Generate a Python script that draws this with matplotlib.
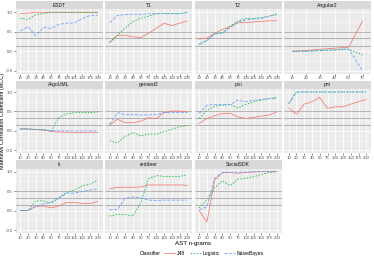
import matplotlib
matplotlib.use("Agg")
import matplotlib.pyplot as plt
from matplotlib.lines import Line2D

plt.rcParams['font.family'] = ['Liberation Sans', 'DejaVu Sans']

ngrams = ["10", "20", "30", "40", "50", "75", "100", "125", "150", "175", "200"]
ngrams_angular2 = ["10", "20", "30", "40", "50", "75"]

classifiers = ["J48", "Logistic", "NaiveBayes"]
colors = {"J48": "#F8766D", "Logistic": "#00BA38", "NaiveBayes": "#619CFF"}
dashes = {"J48": None, "Logistic": (2, 2), "NaiveBayes": (4, 2)}

projects = ["ESDT", "T1", "T2", "Angular2", "ArgoUML", "gensed2", "pixi", "pm",
            "k", "reddeer", "SocialSDK"]

esdt_j48 = [0.97, 0.98, 1.0, 1.0, 1.0, 1.0, 1.0, 1.0, 1.0, 1.0, 1.0]
esdt_log = [0.84, 0.82, 0.93, 0.97, 1.0, 1.0, 1.0, 1.0, 1.0, 1.0, 1.0]
esdt_nb = [0.52, 0.63, 0.40, 0.61, 0.59, 0.69, 0.72, 0.73, 0.84, 0.92, 0.93]

t1_j48 = [0.22, 0.41, 0.41, 0.37, 0.35, 0.46, 0.59, 0.72, 0.66, 0.72, 0.78]
t1_log = [0.24, 0.41, 0.60, 0.76, 0.85, 0.90, 0.96, 0.97, 0.97, 0.97, 0.99]
t1_nb = [0.73, 0.92, 0.94, 0.95, 0.95, 0.96, 0.97, 0.97, 0.96, 0.96, 1.0]

t2_j48 = [0.31, 0.34, 0.46, 0.56, 0.63, 0.73, 0.74, 0.75, 0.77, 0.78, 0.78]
t2_log = [0.16, 0.27, 0.46, 0.47, 0.65, 0.78, 0.84, 0.84, 0.87, 0.90, 0.96]
t2_nb = [0.20, 0.28, 0.44, 0.46, 0.61, 0.75, 0.80, 0.83, 0.84, 0.90, 0.94]

ang_j48 = [0.0, 0.02, 0.05, 0.08, 0.10, 0.78]
ang_log = [0.0, 0.0, 0.01, 0.03, 0.05, -0.10]
ang_nb = [0.0, 0.0, 0.02, 0.04, 0.06, -0.50]

argo_j48 = [0.05, 0.05, 0.03, 0.02, -0.01, -0.03, -0.03, -0.04, -0.04, -0.03, -0.04]
argo_log = [0.05, 0.05, 0.04, 0.03, 0.0, 0.35, 0.44, 0.47, 0.47, 0.47, 0.49]
argo_nb = [0.05, 0.05, 0.04, 0.03, 0.01, 0.0, 0.0, 0.0, 0.0, 0.0, 0.0]

gen_j48 = [0.15, 0.30, 0.21, 0.21, 0.25, 0.34, 0.32, 0.47, 0.51, 0.51, 0.49]
gen_log = [-0.25, -0.31, -0.14, -0.04, -0.13, -0.08, -0.08, -0.02, 0.04, 0.11, 0.14]
gen_nb = [0.17, 0.47, 0.41, 0.42, 0.41, 0.41, 0.42, 0.47, 0.47, 0.47, 0.47]

pixi_j48 = [0.19, 0.32, 0.39, 0.45, 0.45, 0.36, 0.32, 0.35, 0.38, 0.41, 0.49]
pixi_log = [0.32, 0.53, 0.64, 0.66, 0.68, 0.59, 0.68, 0.75, 0.79, 0.83, 0.86]
pixi_nb = [0.45, 0.66, 0.68, 0.68, 0.68, 0.79, 0.75, 0.79, 0.81, 0.83, 0.83]

pm_j48 = [0.59, 0.43, 0.69, 0.75, 0.86, 0.58, 0.62, 0.62, 0.69, 0.75, 0.81]
pm_log = [0.70, 1.0, 1.0, 1.0, 1.0, 1.0, 1.0, 1.0, 1.0, 1.0, 1.0]
pm_nb = [0.70, 1.0, 1.0, 1.0, 1.0, 1.0, 1.0, 1.0, 1.0, 1.0, 1.0]

k_j48 = [0.0, 0.0, 0.11, 0.12, 0.07, 0.12, 0.21, 0.21, 0.18, 0.18, 0.24]
k_log = [0.0, 0.0, 0.25, 0.25, 0.19, 0.34, 0.47, 0.53, 0.64, 0.68, 0.79]
k_nb = [0.0, 0.0, 0.11, 0.17, 0.22, 0.32, 0.45, 0.45, 0.49, 0.53, 0.56]

red_j48 = [0.56, 0.60, 0.60, 0.60, 0.61, 0.66, 0.66, 0.66, 0.66, 0.66, 0.65]
red_log = [-0.14, -0.10, -0.10, -0.14, 0.20, 0.82, 0.90, 0.88, 0.88, 0.88, 0.92]
red_nb = [0.02, 0.03, 0.32, 0.35, 0.33, 0.27, 0.26, 0.27, 0.27, 0.27, 0.27]

soc_j48 = [0.0, -0.29, 0.79, 0.98, 0.98, 0.96, 0.98, 0.99, 1.0, 1.0, 1.0]
soc_log = [0.07, 0.28, 0.59, 0.77, 0.64, 0.81, 0.83, 0.87, 0.93, 0.98, 1.0]
soc_nb = [0.02, 0.10, 0.83, 0.98, 0.98, 0.99, 0.99, 1.0, 1.0, 1.0, 1.0]

data = {
    "ESDT": (ngrams, esdt_j48, esdt_log, esdt_nb),
    "T1": (ngrams, t1_j48, t1_log, t1_nb),
    "T2": (ngrams, t2_j48, t2_log, t2_nb),
    "Angular2": (ngrams_angular2, ang_j48, ang_log, ang_nb),
    "ArgoUML": (ngrams, argo_j48, argo_log, argo_nb),
    "gensed2": (ngrams, gen_j48, gen_log, gen_nb),
    "pixi": (ngrams, pixi_j48, pixi_log, pixi_nb),
    "pm": (ngrams, pm_j48, pm_log, pm_nb),
    "k": (ngrams, k_j48, k_log, k_nb),
    "reddeer": (ngrams, red_j48, red_log, red_nb),
    "SocialSDK": (ngrams, soc_j48, soc_log, soc_nb),
}

thresholds = [0.5, 0.33, 0.145]
y_ticks = [-0.5, 0.0, 0.5, 1.0]
y_tick_labels = ["-0.5", "0.0", "0.5", "1.0"]
y_minor = [-0.25, 0.25, 0.75]

W, H = 374, 258
fig = plt.figure(figsize=(W / 100, H / 100), dpi=100)

left0, step_x, pw = 15.5, 89.5, 87.0
top0, step_y, ph = 9.4, 79.7, 64.2
strip_h = 8.6

for i, name in enumerate(projects):
    r, c = divmod(i, 4)
    x0 = left0 + c * step_x
    y0 = top0 + r * step_y
    ax = fig.add_axes([x0 / W, 1 - (y0 + ph) / H, pw / W, ph / H])
    cats, j48, lg, nb = data[name]
    xs = list(range(len(cats)))
    ax.set_facecolor("#EBEBEB")
    for s in ax.spines.values():
        s.set_visible(False)
    for yv in y_minor:
        ax.axhline(yv, color="white", lw=0.3, zorder=0.5)
    for yv in y_ticks:
        ax.axhline(yv, color="white", lw=0.6, zorder=0.6)
    for xv in xs:
        ax.axvline(xv, color="white", lw=0.6, zorder=0.6)
    for t in thresholds:
        ax.axhline(t, color="#9A9A9A", lw=0.5, zorder=1)
    for cl, vals in zip(classifiers, (j48, lg, nb)):
        ln, = ax.plot(xs, vals, color=colors[cl], lw=0.55, zorder=2)
        if dashes[cl]:
            ln.set_dashes(dashes[cl])
    ax.set_xlim(-0.6, len(cats) - 0.4)
    ax.set_ylim(-0.575, 1.075)
    ax.set_xticks(xs)
    ax.set_xticklabels(cats)
    ax.set_yticks(y_ticks)
    ax.tick_params(axis="both", length=1.2, width=0.4, color="#333333",
                   labelsize=3.1, labelcolor="#4D4D4D", pad=0.8)
    if c == 0:
        ax.set_yticklabels(y_tick_labels)
    else:
        ax.tick_params(axis="y", length=0, labelleft=False)
    # strip
    sax = fig.add_axes([x0 / W, 1 - y0 / H, pw / W, strip_h / H])
    sax.set_facecolor("#D9D9D9")
    sax.set_xticks([])
    sax.set_yticks([])
    for s in sax.spines.values():
        s.set_visible(False)
    sax.text(0.5, 0.5, name, ha="center", va="center", fontsize=3.6,
             color="#1A1A1A", transform=sax.transAxes)

fig.text(3.0 / W, 1 - 121 / H, "Matthews Correlation Coefficient (MCC)",
         rotation=90, ha="center", va="center", fontsize=3.9, color="black")
fig.text(193 / W, 1 - 244 / H, "AST n-grams", ha="center", va="center",
         fontsize=4.4, color="black")

handles = [Line2D([0], [0], color="none", lw=0)]
labels = ["Classifier"]
for cl in classifiers:
    h = Line2D([0], [0], color=colors[cl], lw=0.55)
    if dashes[cl]:
        h.set_dashes(dashes[cl])
    handles.append(h)
    labels.append(cl)
leg = fig.legend(handles, labels, loc="center",
                 bbox_to_anchor=(195 / W, 1 - 253.5 / H), ncol=4, frameon=False,
                 fontsize=3.6, handlelength=2.2,
                 columnspacing=0.8, handletextpad=0.4, borderpad=0.1)
# shift the title entry so it has no gap for a handle
leg.legend_handles[0].set_visible(False)

fig.savefig("out.png", dpi=100)
